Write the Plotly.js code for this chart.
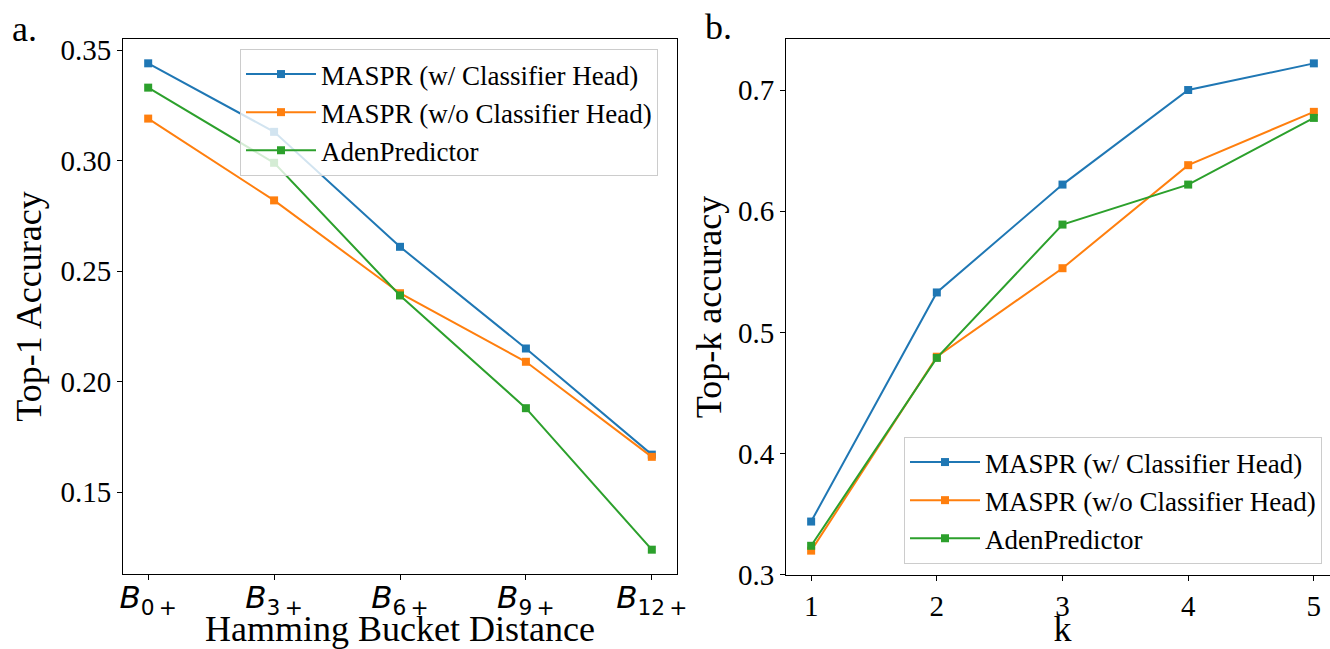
<!DOCTYPE html>
<html>
<head>
<meta charset="utf-8">
<script src="https://cdn.plot.ly/plotly-3.0.1.min.js"></script>
<style>
html,body{margin:0;padding:0;overflow:hidden;background:#fff;}
#chart{width:1340px;height:649px;}
</style>
</head>
<body>
<div id="chart"></div>
<script>
// ---- data ----
const seriesNames = ['MASPR (w/ Classifier Head)', 'MASPR (w/o Classifier Head)', 'AdenPredictor'];
const bucketIdx = [0, 1, 2, 3, 4];
const bucketLabels = ['<i>B</i><sub>0\u2009+</sub>', '<i>B</i><sub>3\u2009+</sub>', '<i>B</i><sub>6\u2009+</sub>', '<i>B</i><sub>9\u2009+</sub>', '<i>B</i><sub>12\u2009+</sub>'];
const top1WithHead = [0.344, 0.313, 0.261, 0.215, 0.167];
const top1NoHead   = [0.319, 0.282, 0.240, 0.209, 0.166];
const top1Aden     = [0.333, 0.299, 0.239, 0.188, 0.124];

const kValues = [1, 2, 3, 4, 5];
const topkWithHead = [0.344, 0.533, 0.622, 0.700, 0.722];
const topkNoHead   = [0.320, 0.480, 0.553, 0.638, 0.682];
const topkAden     = [0.324, 0.479, 0.589, 0.622, 0.677];

const colors = ['#1f77b4', '#ff7f0e', '#2ca02c'];
const W = 1340, H = 649, T = 39, B = 74;
const plotH = H - T - B;

function mk(x, y, i, xa, ya, leg) {
  return {
    x: x, y: y, type: 'scatter', mode: 'lines+markers',
    name: seriesNames[i], xaxis: xa, yaxis: ya, legend: leg,
    line: {color: colors[i], width: 2},
    marker: {symbol: 'square', size: 8, color: colors[i]}
  };
}

const traces = [
  mk(bucketIdx, top1WithHead, 0, 'x', 'y', 'legend'),
  mk(bucketIdx, top1NoHead, 1, 'x', 'y', 'legend'),
  mk(bucketIdx, top1Aden, 2, 'x', 'y', 'legend'),
  mk(kValues, topkWithHead, 0, 'x2', 'y2', 'legend2'),
  mk(kValues, topkNoHead, 1, 'x2', 'y2', 'legend2'),
  mk(kValues, topkAden, 2, 'x2', 'y2', 'legend2')
];

const serif = 'Liberation Serif';
function axisBase() {
  return {
    showline: true, mirror: true, linecolor: '#000', linewidth: 1,
    ticks: 'outside', ticklen: 5, tickwidth: 1, tickcolor: '#000',
    showgrid: false, zeroline: false, automargin: false,
    tickfont: {family: serif, size: 29, color: '#000'}
  };
}
function titleFont() { return {family: serif, size: 36, color: '#000'}; }

function yd(top, bottom) { return [1 - (bottom - T) / plotH, 1 - (top - T) / plotH]; }

function legendBase() {
  return {
    bgcolor: 'rgba(255,255,255,0.8)', bordercolor: '#cccccc', borderwidth: 1,
    font: {family: serif, size: 27, color: '#000'},
    xanchor: 'left', yanchor: 'top', itemwidth: 70, tracegroupgap: 0
  };
}

const layout = {
  width: W, height: H,
  font: {family: serif, size: 29, color: '#000'},
  margin: {l: 0, r: 0, t: T, b: B, pad: 0},
  paper_bgcolor: '#fff', plot_bgcolor: '#fff',
  showlegend: true, hovermode: false,
  xaxis: Object.assign(axisBase(), {
    domain: [123 / W, 677 / W], anchor: 'y',
    range: [-0.2, 4.2], tickvals: bucketIdx, ticktext: bucketLabels,
    tickfont: {family: 'DejaVu Sans', size: 31, color: '#000'},
    ticklabelstandoff: -9,
    title: {text: 'Hamming Bucket Distance', font: titleFont(), standoff: 16}
  }),
  yaxis: Object.assign(axisBase(), {
    domain: yd(39, 574), anchor: 'x',
    range: [0.113, 0.355], tick0: 0, dtick: 0.05, tickformat: '.2f',
    title: {text: 'Top-1 Accuracy', font: titleFont(), standoff: 7}
  }),
  xaxis2: Object.assign(axisBase(), {
    domain: [786 / W, 1339 / W], anchor: 'y2',
    range: [0.8, 5.2], tickvals: kValues,
    title: {text: 'k', font: titleFont(), standoff: 7}
  }),
  yaxis2: Object.assign(axisBase(), {
    domain: yd(39, 575), anchor: 'x2',
    range: [0.2999, 0.7421], tick0: 0, dtick: 0.1, tickformat: '.1f',
    title: {text: 'Top-k accuracy', font: titleFont(), standoff: 5}
  }),
  legend: Object.assign(legendBase(), {x: 240 / W, y: 1 - (49 - T) / plotH}),
  legend2: Object.assign(legendBase(), {x: 904 / W, y: 1 - (437 - T) / plotH}),
  annotations: [
    {text: 'a.', xref: 'paper', yref: 'paper', x: 10 / W, y: 1 - (29 - T) / plotH,
     xanchor: 'left', yanchor: 'middle', showarrow: false, font: titleFont()},
    {text: 'b.', xref: 'paper', yref: 'paper', x: 703 / W, y: 1 - (27 - T) / plotH,
     xanchor: 'left', yanchor: 'middle', showarrow: false, font: titleFont()}
  ]
};

Plotly.newPlot('chart', traces, layout, {displayModeBar: false, staticPlot: true});
</script>
</body>
</html>
